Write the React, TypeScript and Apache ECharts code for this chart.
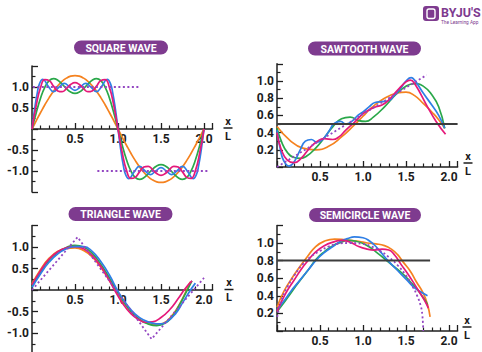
import React, { useEffect, useRef } from "react";
import * as echarts from "echarts";

// ---------- colours ----------
const ORANGE = "#F5821F";
const GREEN = "#2AA84A";
const PINK = "#E5197A";
const BLUE = "#2F7FE6";
const DOTTED = "#9347C2";
const PILL = "#7E3B8F";
const AXIS = "#1f1f1f";
const REF = "#3c3c3c";

// ---------- tick labels ----------
const X_LABELS = ["0.5", "1.0", "1.5", "2.0"];
const Y_LABELS_SYM = ["1.0", "0.5", "-0.5", "-1.0"];
const Y_LABELS_POS = ["0.2", "0.4", "0.6", "0.8", "1.0"];
const TITLES = ["SQUARE WAVE", "SAWTOOTH WAVE", "TRIANGLE WAVE", "SEMICIRCLE WAVE"];

// ---------- square wave ----------
const SQ_X = [0, 0.05, 0.1, 0.15, 0.2, 0.25, 0.3, 0.35, 0.4, 0.45, 0.5, 0.55, 0.6, 0.65, 0.7, 0.75, 0.8, 0.85, 0.9, 0.95, 1.0,
  1.05, 1.1, 1.15, 1.2, 1.25, 1.3, 1.35, 1.4, 1.45, 1.5, 1.55, 1.6, 1.65, 1.7, 1.75, 1.8, 1.85, 1.9, 1.95, 2.0];
const SQ_ORANGE = [0, 0.199, 0.393, 0.578, 0.748, 0.9, 1.03, 1.134, 1.211, 1.258, 1.273, 1.258, 1.211, 1.134, 1.03, 0.9, 0.748, 0.578, 0.393, 0.199, 0,
  -0.199, -0.393, -0.578, -0.748, -0.9, -1.03, -1.134, -1.211, -1.258, -1.273, -1.258, -1.211, -1.134, -1.03, -0.9, -0.748, -0.578, -0.393, -0.199, 0];
const SQ_GREEN = [0, 0.392, 0.737, 0.997, 1.152, 1.2, 1.161, 1.068, 0.962, 0.879, 0.849, 0.879, 0.962, 1.068, 1.161, 1.2, 1.152, 0.997, 0.737, 0.392, 0,
  -0.392, -0.737, -0.997, -1.152, -1.2, -1.161, -1.068, -0.962, -0.879, -0.849, -0.879, -0.962, -1.068, -1.161, -1.2, -1.152, -0.997, -0.737, -0.392, 0];
const SQ_PINK = [0, 0.572, 0.991, 1.177, 1.152, 1.02, 0.907, 0.888, 0.962, 1.059, 1.103, 1.059, 0.962, 0.888, 0.907, 1.02, 1.152, 1.177, 0.991, 0.572, 0,
  -0.572, -0.991, -1.177, -1.152, -1.02, -0.907, -0.888, -0.962, -1.059, -1.103, -1.059, -0.962, -0.888, -0.907, -1.02, -1.152, -1.177, -0.991, -0.572, 0];
const SQ_BLUE_X = [0, 0.03, 0.0625, 0.09, 0.125, 0.1875, 0.25, 0.3125, 0.375, 0.4375, 0.5, 0.5625, 0.625, 0.6875, 0.75, 0.8125, 0.875, 0.91, 0.9375, 0.97, 1.0,
  1.03, 1.0625, 1.09, 1.125, 1.1875, 1.25, 1.3125, 1.375, 1.4375, 1.5, 1.5625, 1.625, 1.6875, 1.75, 1.8125, 1.875, 1.91, 1.9375, 1.97, 2.0];
const SQ_BLUE = [0, 0.465, 0.874, 1.092, 1.184, 1.022, 0.892, 0.993, 1.085, 1.002, 0.922, 1.002, 1.085, 0.993, 0.892, 1.022, 1.184, 1.092, 0.874, 0.465, 0,
  -0.465, -0.874, -1.092, -1.184, -1.022, -0.892, -0.993, -1.085, -1.002, -0.922, -1.002, -1.085, -0.993, -0.892, -1.022, -1.184, -1.092, -0.874, -0.465, 0];
const SQ_REF_TOP = [[0.01, 1.0], [1.26, 1.0]];
const SQ_REF_BOTTOM = [[0.76, -1.0], [2.06, -1.0]];

// ---------- sawtooth wave ----------
const SAW_ORANGE = [[0, 0.47], [0.15, 0.31], [0.3, 0.22], [0.45, 0.2], [0.6, 0.24], [0.75, 0.35], [0.9, 0.49], [1.0, 0.59], [1.1, 0.69],
  [1.25, 0.8], [1.4, 0.86], [1.5, 0.87], [1.6, 0.83], [1.7, 0.74], [1.8, 0.64], [1.88, 0.55], [1.95, 0.45]];
const SAW_GREEN = [[0, 0.45], [0.05, 0.3], [0.12, 0.17], [0.2, 0.11], [0.27, 0.1], [0.35, 0.13], [0.45, 0.22], [0.55, 0.34], [0.65, 0.47],
  [0.75, 0.56], [0.85, 0.58], [0.95, 0.54], [1.03, 0.53], [1.12, 0.58], [1.25, 0.7], [1.38, 0.84], [1.5, 0.94], [1.6, 0.97], [1.7, 0.94],
  [1.8, 0.84], [1.88, 0.7], [1.95, 0.45]];
const SAW_PINK = [[0, 0.4], [0.05, 0.2], [0.12, 0.08], [0.2, 0.05], [0.28, 0.1], [0.38, 0.22], [0.47, 0.3], [0.55, 0.33], [0.65, 0.32],
  [0.72, 0.35], [0.8, 0.43], [0.9, 0.52], [1.0, 0.62], [1.08, 0.67], [1.15, 0.7], [1.22, 0.72], [1.3, 0.78], [1.4, 0.89], [1.5, 0.99],
  [1.55, 1.01], [1.6, 0.97], [1.75, 0.7], [1.85, 0.53], [1.96, 0.38]];
const SAW_BLUE = [[0, 0.43], [0.04, 0.2], [0.08, 0.07], [0.14, 0.01], [0.2, 0.06], [0.27, 0.2], [0.33, 0.3], [0.4, 0.32], [0.46, 0.29],
  [0.52, 0.31], [0.6, 0.41], [0.67, 0.51], [0.74, 0.53], [0.8, 0.5], [0.87, 0.53], [0.94, 0.6], [1.0, 0.64], [1.07, 0.7], [1.14, 0.75],
  [1.22, 0.76], [1.3, 0.77], [1.37, 0.84], [1.44, 0.92], [1.5, 1.0], [1.56, 1.04], [1.6, 1.01], [1.7, 0.86], [1.8, 0.72], [1.88, 0.6], [1.95, 0.45]];
const SAW_TARGET = [[0, 0], [1.74, 1.07]];
const SAW_MEAN = [[0, 0.5], [2.1, 0.5]];

// ---------- triangle wave ----------
const TRI_ORANGE = [[0, 0.14], [0.1, 0.48], [0.2, 0.74], [0.3, 0.9], [0.4, 0.97], [0.5, 0.98], [0.6, 0.92], [0.7, 0.77], [0.8, 0.53],
  [0.9, 0.22], [0.97, 0.0], [1.05, -0.25], [1.15, -0.5], [1.25, -0.68], [1.35, -0.78], [1.43, -0.81], [1.52, -0.78], [1.6, -0.66],
  [1.68, -0.45], [1.75, -0.2], [1.84, 0.19]];
const TRI_GREEN = [[0, 0.08], [0.1, 0.42], [0.2, 0.7], [0.3, 0.88], [0.4, 0.99], [0.5, 1.04], [0.6, 1.0], [0.7, 0.85], [0.8, 0.6],
  [0.9, 0.28], [0.98, 0.0], [1.05, -0.22], [1.15, -0.5], [1.25, -0.69], [1.35, -0.79], [1.45, -0.83], [1.55, -0.77], [1.63, -0.62],
  [1.7, -0.4], [1.78, -0.1], [1.86, 0.21]];
const TRI_PINK = [[0, 0.12], [0.1, 0.45], [0.2, 0.72], [0.3, 0.89], [0.4, 0.98], [0.5, 1.01], [0.6, 0.96], [0.7, 0.8], [0.8, 0.55],
  [0.9, 0.22], [0.96, 0.0], [1.05, -0.3], [1.15, -0.55], [1.25, -0.7], [1.32, -0.75], [1.4, -0.74], [1.5, -0.64], [1.6, -0.46],
  [1.7, -0.2], [1.78, 0.03], [1.86, 0.21]];
const TRI_BLUE = [[0, 0.06], [0.1, 0.38], [0.2, 0.65], [0.3, 0.84], [0.4, 0.96], [0.5, 1.01], [0.6, 1.01], [0.7, 0.9], [0.8, 0.66],
  [0.9, 0.35], [1.0, -0.03], [1.1, -0.33], [1.2, -0.56], [1.3, -0.7], [1.4, -0.77], [1.49, -0.79], [1.58, -0.72], [1.67, -0.55],
  [1.75, -0.3], [1.83, -0.04], [1.9, 0.16]];
const TRI_TARGET = [[0, 0], [0.53, 1.23], [1.39, -1.14], [2.0, 0.28]];

// ---------- semicircle wave ----------
const SEMI_ORANGE = [[0, 0.27], [0.08, 0.45], [0.16, 0.58], [0.25, 0.71], [0.35, 0.84], [0.45, 0.96], [0.55, 1.02], [0.67, 1.045],
  [0.8, 1.035], [0.95, 1.02], [1.05, 1.0], [1.15, 0.99], [1.25, 0.97], [1.33, 0.93], [1.4, 0.87], [1.47, 0.78], [1.55, 0.68],
  [1.62, 0.56], [1.7, 0.43], [1.75, 0.3], [1.78, 0.16]];
const SEMI_GREEN = [[0, 0.22], [0.08, 0.32], [0.16, 0.43], [0.25, 0.55], [0.36, 0.69], [0.46, 0.82], [0.55, 0.9], [0.65, 0.97],
  [0.75, 1.01], [0.82, 1.03], [0.92, 1.02], [1.05, 0.97], [1.15, 0.9], [1.25, 0.82], [1.35, 0.74], [1.45, 0.66], [1.55, 0.56],
  [1.64, 0.46], [1.7, 0.38], [1.75, 0.3]];
const SEMI_PINK = [[0, 0.22], [0.06, 0.35], [0.12, 0.46], [0.2, 0.58], [0.28, 0.7], [0.36, 0.8], [0.45, 0.9], [0.55, 0.97], [0.65, 1.01],
  [0.75, 1.03], [0.85, 1.01], [0.95, 0.96], [1.05, 0.93], [1.13, 0.92], [1.22, 0.93], [1.3, 0.92], [1.37, 0.86], [1.44, 0.76],
  [1.52, 0.65], [1.6, 0.53], [1.67, 0.42], [1.72, 0.34], [1.76, 0.26]];
const SEMI_BLUE = [[0, 0.24], [0.08, 0.34], [0.16, 0.45], [0.26, 0.57], [0.36, 0.69], [0.46, 0.81], [0.55, 0.89], [0.65, 0.96],
  [0.74, 1.02], [0.82, 1.05], [0.9, 1.07], [1.0, 1.06], [1.08, 1.02], [1.15, 0.96], [1.22, 0.88], [1.29, 0.8], [1.37, 0.72],
  [1.44, 0.65], [1.52, 0.57], [1.6, 0.49], [1.68, 0.44], [1.75, 0.4]];
const SEMI_TARGET = [[0.003, 0.16], [0.03, 0.28], [0.07, 0.4], [0.12, 0.5], [0.2, 0.63], [0.3, 0.76], [0.4, 0.85], [0.5, 0.91],
  [0.6, 0.96], [0.7, 0.99], [0.85, 1.0], [1.0, 0.99], [1.1, 0.96], [1.2, 0.91], [1.3, 0.84], [1.4, 0.75], [1.5, 0.63], [1.58, 0.5],
  [1.63, 0.4], [1.67, 0.29], [1.69, 0.18], [1.7, 0.0]];
const SEMI_MEAN = [[0, 0.8], [1.78, 0.8]];

const zip = (xs: number[], ys: number[]) => xs.map((x, i) => [x, ys[i]]);

const LABEL_FONT = { fontFamily: "Roboto", fontWeight: "bold" as const, fontSize: 12, color: "#1c1c1c" };

// offset: negative values lift the x axis from the grid bottom up to the zero line
function makeXAxis(gridIndex: number, offset: number) {
  return {
    type: "value",
    gridIndex,
    position: "bottom",
    offset,
    min: 0,
    max: 2.1,
    interval: 0.5,
    splitLine: { show: false },
    axisLine: { show: true, onZero: false, lineStyle: { color: AXIS, width: 1.5 } },
    axisTick: { show: true, inside: true, length: 6, lineStyle: { color: AXIS, width: 1.3 } },
    minorTick: { show: true, splitNumber: 5, length: 3.5, lineStyle: { color: AXIS, width: 1.2 } },
    axisLabel: {
      ...LABEL_FONT,
      margin: 4,
      formatter: (v: number) => (X_LABELS.includes(v.toFixed(1)) ? v.toFixed(1) : ""),
    },
  };
}

function makeYAxis(gridIndex: number, symmetric: boolean) {
  const labels = symmetric ? Y_LABELS_SYM : Y_LABELS_POS;
  return {
    type: "value",
    gridIndex,
    min: symmetric ? -1.5 : 0,
    max: symmetric ? 1.5 : 1.2,
    interval: symmetric ? 0.5 : 0.2,
    splitLine: { show: false },
    axisLine: { show: true, onZero: false, lineStyle: { color: AXIS, width: 1.5 } },
    axisTick: { show: true, inside: true, length: 6, lineStyle: { color: AXIS, width: 1.3 } },
    minorTick: { show: true, splitNumber: 2, length: 3.5, lineStyle: { color: AXIS, width: 1.2 } },
    axisLabel: {
      ...LABEL_FONT,
      margin: 3,
      formatter: (v: number) => (labels.includes(v.toFixed(1)) ? v.toFixed(1) : ""),
    },
  };
}

function curve(idx: number, data: number[][], color: string, z = 2) {
  return {
    type: "line",
    xAxisIndex: idx,
    yAxisIndex: idx,
    data,
    smooth: true,
    showSymbol: false,
    symbol: "none",
    z,
    lineStyle: { color, width: 1.7 },
    silent: true,
  };
}
function dotted(idx: number, data: number[][], smooth = false) {
  return {
    type: "line",
    xAxisIndex: idx,
    yAxisIndex: idx,
    data,
    smooth,
    showSymbol: false,
    symbol: "none",
    z: 4,
    lineStyle: { color: DOTTED, width: 1.8, type: [2, 2.5] },
    silent: true,
  };
}
function solidRef(idx: number, data: number[][]) {
  return {
    type: "line",
    xAxisIndex: idx,
    yAxisIndex: idx,
    data,
    showSymbol: false,
    symbol: "none",
    z: 5,
    lineStyle: { color: REF, width: 2 },
    silent: true,
  };
}

function pill(cx: number, cy: number, w: number, text: string) {
  const h = 14;
  return [
    { type: "rect", shape: { x: cx - w / 2, y: cy - h / 2, width: w, height: h, r: h / 2 }, style: { fill: PILL } },
    {
      type: "text",
      x: cx,
      y: cy + 0.5,
      style: { text, fill: "#ffffff", fontFamily: "Roboto", fontWeight: "bold", fontSize: 10.5, align: "center", verticalAlign: "middle" },
    },
  ];
}

function fraction(cx: number, cy: number) {
  return [
    { type: "text", x: cx, y: cy - 7, style: { text: "x", fill: "#1c1c1c", fontFamily: "Roboto", fontWeight: "bold", fontSize: 11, align: "center", verticalAlign: "middle" } },
    { type: "line", shape: { x1: cx - 4.5, y1: cy, x2: cx + 4.5, y2: cy }, style: { stroke: "#1c1c1c", lineWidth: 1.5 } },
    { type: "text", x: cx, y: cy + 8, style: { text: "L", fill: "#1c1c1c", fontFamily: "Roboto", fontWeight: "bold", fontSize: 11, align: "center", verticalAlign: "middle" } },
  ];
}

export default function App() {
  const ref = useRef<HTMLDivElement>(null);
  useEffect(() => {
    if (!ref.current) return;
    const chart = echarts.init(ref.current, undefined, { renderer: "svg" });
    const option: any = {
      animation: false,
      backgroundColor: "#ffffff",
      grid: [
        { left: 32, top: 66, width: 180.6, height: 126 },
        { left: 277, top: 63.8, width: 180.6, height: 103.2 },
        { left: 32, top: 225.5, width: 180.6, height: 129 },
        { left: 277, top: 225.4, width: 180.6, height: 105.6 },
      ].map((g) => ({ ...g, containLabel: false, outerBoundsMode: "none" })),
      xAxis: [makeXAxis(0, -63), makeXAxis(1, 0), makeXAxis(2, -64.5), makeXAxis(3, 0)],
      yAxis: [makeYAxis(0, true), makeYAxis(1, false), makeYAxis(2, true), makeYAxis(3, false)],
      series: [
        curve(0, zip(SQ_X, SQ_ORANGE), ORANGE),
        curve(0, zip(SQ_X, SQ_GREEN), GREEN),
        curve(0, zip(SQ_BLUE_X, SQ_BLUE), BLUE),
        curve(0, zip(SQ_X, SQ_PINK), PINK, 3),
        dotted(0, SQ_REF_TOP),
        dotted(0, SQ_REF_BOTTOM),

        curve(1, SAW_ORANGE, ORANGE),
        curve(1, SAW_GREEN, GREEN),
        curve(1, SAW_BLUE, BLUE),
        curve(1, SAW_PINK, PINK, 3),
        dotted(1, SAW_TARGET),
        solidRef(1, SAW_MEAN),

        curve(2, TRI_ORANGE, ORANGE),
        curve(2, TRI_GREEN, GREEN),
        curve(2, TRI_PINK, PINK),
        curve(2, TRI_BLUE, BLUE, 3),
        dotted(2, TRI_TARGET),

        curve(3, SEMI_ORANGE, ORANGE),
        curve(3, SEMI_GREEN, GREEN),
        curve(3, SEMI_BLUE, BLUE),
        curve(3, SEMI_PINK, PINK, 3),
        dotted(3, SEMI_TARGET, true),
        solidRef(3, SEMI_MEAN),
      ],
      graphic: [
        ...pill(121, 47.5, 94, TITLES[0]),
        ...pill(364.5, 48.5, 113, TITLES[1]),
        ...pill(120.5, 214, 104, TITLES[2]),
        ...pill(365, 215, 112, TITLES[3]),
        ...fraction(228, 128),
        ...fraction(468, 163),
        ...fraction(229, 289.5),
        ...fraction(467, 327),
        { type: "rect", shape: { x: 423, y: 6, width: 16, height: 15, r: 3 }, style: { fill: PILL } },
        { type: "rect", shape: { x: 427, y: 9, width: 8, height: 9.5, r: 2 }, style: { fill: "none", stroke: "#ffffff", lineWidth: 1.4 } },
        { type: "text", x: 441, y: 12.5, style: { text: "BYJU'S", fill: PILL, fontFamily: "Roboto", fontWeight: "bold", fontSize: 12.5, align: "left", verticalAlign: "middle" } },
        { type: "text", x: 441, y: 22.5, style: { text: "The Learning App", fill: PILL, fontFamily: "Roboto", fontSize: 4.8, align: "left", verticalAlign: "middle" } },
      ],
    };
    chart.setOption(option);
    return () => chart.dispose();
  }, []);
  return (
    <div
      ref={ref}
      style={{ position: "fixed", left: 0, top: 0, width: 482, height: 352, background: "#fff" }}
    />
  );
}
